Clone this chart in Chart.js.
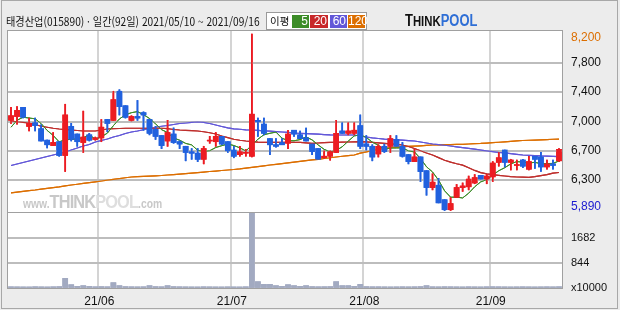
<!DOCTYPE html>
<html lang="ko">
<head>
<meta charset="utf-8">
<title>태경산업 일간 차트</title>
<script src="https://cdn.jsdelivr.net/npm/chart.js@4.4.1/dist/chart.umd.min.js"></script>
<style>
  html, body { margin: 0; padding: 0; }
  body { width: 620px; height: 310px; background: #ececec; position: relative; overflow: hidden; font-family: "Liberation Sans", Arial, sans-serif; }
  .outer { position: absolute; left: 1px; top: 0; width: 615px; height: 307px; border: 1px solid #a8a8a8; }
  #head { position: absolute; left: 6px; top: 13px; font: 11.5px "Noto Sans CJK KR", sans-serif; color: #111; white-space: nowrap; transform: scaleX(0.885); transform-origin: left center; }
  #legend { position: absolute; left: 266px; top: 12px; width: 99px; height: 16px; background: #fff; border: 1px solid #9a9a9a; }
  #legend span { position: absolute; top: 2px; height: 13px; line-height: 13px; color: #fff; text-align: right; padding-right: 1px; box-sizing: border-box; font-family: "Liberation Sans", Arial, sans-serif; font-size: 12px; white-space: nowrap; }
  #legend .lbl { color: #111; left: 3px; width: 22px; text-align: left; font-family: "Noto Sans CJK KR", sans-serif; font-size: 10.5px; line-height: 12px; }
  #logo { position: absolute; left: 405px; top: 12px; font-family: "Liberation Sans", Arial, sans-serif; font-weight: bold; font-size: 14px; white-space: nowrap; transform: scaleX(0.81); transform-origin: left center; }
  #wm { position: absolute; left: 23px; top: 191px; color: #c8c8c8; white-space: nowrap; font-family: "Liberation Sans", Arial, sans-serif; font-weight: bold; pointer-events: none; transform: scaleX(0.86); transform-origin: left center; }
  .box { position: absolute; left: 0; width: 620px; }
</style>
</head>
<body>
<div class="outer"></div>
<div class="box" style="top:0;height:222px"><canvas id="priceChart"></canvas></div>
<div class="box" style="top:204px;height:106px"><canvas id="volChart"></canvas></div>

<div id="head">태경산업(015890) · 일간(92일) 2021/05/10 ~ 2021/09/16</div>
<div id="legend">
  <span class="lbl">이평</span>
  <span style="left:25px;width:17px;background:#3c8c28">5</span>
  <span style="left:43px;width:18px;background:#c8282a">20</span>
  <span style="left:63px;width:17px;background:#6257d8">60</span>
  <span style="left:81px;width:17px;background:#dc6e00">120</span>
</div>
<div id="logo"><span style="color:#111;font-size:16px">T</span><span style="color:#111">HINK</span><span style="color:#2f6fd6;font-size:16px">POOL</span></div>
<div id="wm"><span style="font-size:12px">www.</span><span style="font-size:19px;letter-spacing:-1px">THINK</span><span style="font-size:19px;color:#dedede;letter-spacing:-1px">POOL</span><span style="font-size:12px">.com</span></div>

<script>
// trading days 2021/05/10 ~ 2021/09/16 (92)
const dates = [
  '2021/05/10','2021/05/11','2021/05/12','2021/05/13','2021/05/14','2021/05/17','2021/05/18','2021/05/20','2021/05/21','2021/05/24',
  '2021/05/25','2021/05/26','2021/05/27','2021/05/28','2021/05/31','2021/06/01','2021/06/02','2021/06/03','2021/06/04','2021/06/07',
  '2021/06/08','2021/06/09','2021/06/10','2021/06/11','2021/06/14','2021/06/15','2021/06/16','2021/06/17','2021/06/18','2021/06/21',
  '2021/06/22','2021/06/23','2021/06/24','2021/06/25','2021/06/28','2021/06/29','2021/06/30','2021/07/01','2021/07/02','2021/07/05',
  '2021/07/06','2021/07/07','2021/07/08','2021/07/09','2021/07/12','2021/07/13','2021/07/14','2021/07/15','2021/07/16','2021/07/19',
  '2021/07/20','2021/07/21','2021/07/22','2021/07/23','2021/07/26','2021/07/27','2021/07/28','2021/07/29','2021/07/30','2021/08/02',
  '2021/08/03','2021/08/04','2021/08/05','2021/08/06','2021/08/09','2021/08/10','2021/08/11','2021/08/12','2021/08/13','2021/08/17',
  '2021/08/18','2021/08/19','2021/08/20','2021/08/23','2021/08/24','2021/08/25','2021/08/26','2021/08/27','2021/08/30','2021/08/31',
  '2021/09/01','2021/09/02','2021/09/03','2021/09/06','2021/09/07','2021/09/08','2021/09/09','2021/09/10','2021/09/13','2021/09/14',
  '2021/09/15','2021/09/16'
];

const opens = [7070,7120,7240,6990,7040,6960,6810,6740,6790,6610, 6990,6890,6780,6880,6820,6840,7080,7070,7450,7260,
  7070,7120,7170,7080,6950,6870,6800,6890,6790,6730, 6660,6640,6560,6800,6790,6860,6790,6680,6620,6640,
  6600,7070,7020,6830,6750,6780,6770,6940,6880,6840, 6760,6700,6580,6600,6650,6930,6900,6900,7000,6760,
  6730,6630,6730,6730,6820,6730,6620,6530,6590,6410, 6190,6220,6030,5900,6060,6190,6200,6250,6350,6300,
  6330,6520,6680,6520,6480,6550,6430,6600,6590,6460, 6500,6540];
const highs = [7240,7250,7240,7100,7100,7010,6810,6910,6790,7280, 7030,6890,7190,6900,6850,7080,7080,7450,7470,7260,
  7130,7330,7180,7080,6990,6870,7070,6970,6800,6730, 6700,6700,6730,6860,6910,6860,6790,6730,6730,6690,
  8200,7100,7100,6830,6830,6830,6940,6940,6930,6970, 6760,6700,6670,6670,7070,7040,7040,7040,7140,6870,
  6750,6750,6760,6870,6870,6780,6620,6690,6590,6410, 6370,6310,6030,6060,6230,6250,6340,6360,6350,6360,
  6530,6650,6680,6560,6550,6560,6600,6600,6650,6550, 6550,6700];
const lows = [7030,7020,7100,6930,6930,6800,6710,6740,6600,6400, 6800,6730,6650,6800,6810,6790,6920,7070,7140,7100,
  7060,7070,6940,6880,6820,6700,6730,6770,6700,6540, 6560,6530,6500,6770,6730,6750,6650,6580,6600,6600,
  6590,6860,6880,6620,6720,6750,6700,6860,6830,6800, 6620,6560,6570,6550,6650,6900,6880,6880,6700,6680,
  6540,6590,6650,6650,6730,6590,6500,6530,6270,6090, 6160,5990,5890,5890,6060,6140,6160,6240,6300,6240,
  6270,6470,6460,6420,6420,6450,6420,6440,6400,6430, 6430,6530];
const closes = [7130,7200,7110,7030,7000,6800,6750,6780,6610,7140, 6820,6790,6850,6810,6840,6980,7030,7340,7250,7110,
  7120,7100,7140,6900,6860,6740,6910,6780,6760,6650, 6640,6560,6700,6810,6860,6760,6670,6600,6660,6650,
  7150,7050,6900,6750,6730,6750,6890,6890,6830,6800, 6660,6560,6600,6660,6900,6900,6930,6940,6730,6730,
  6590,6730,6660,6830,6730,6600,6530,6590,6400,6190, 6260,5990,5900,5980,6190,6210,6300,6320,6300,6340,
  6510,6580,6520,6550,6490,6470,6530,6560,6460,6500, 6480,6690];

// moving averages
const ma5 = [6980,7070,7110,7100,7090,7028,6938,6872,6788,6816, 6820,6828,6842,6882,6822,6854,6902,7000,7088,7142,
  7170,7184,7144,7094,7024,6948,6910,6838,6810,6768, 6748,6678,6662,6672,6714,6738,6760,6740,6710,6668,
  6746,6822,6882,6900,6916,6836,6804,6802,6818,6852, 6814,6748,6690,6656,6676,6724,6798,6866,6880,6846,
  6784,6744,6688,6708,6708,6710,6670,6656,6570,6462, 6394,6286,6148,6064,6064,6054,6116,6200,6264,6294,
  6354,6410,6450,6500,6530,6522,6512,6520,6502,6504, 6506,6538];
const ma20 = [7061,7051,7043,7035,7015,6992,6979,6966,6956,6950, 6943,6937,6930,6930,6930,6943,6956,6960,6963,6966,
  6966,6966,6966,6966,6966,6966,6960,6950,6943,6939, 6935,6930,6920,6907,6891,6865,6843,6822,6809,6799,
  6791,6784,6782,6782,6782,6782,6782,6782,6782,6776, 6769,6773,6777,6780,6782,6785,6786,6789,6790,6787,
  6782,6776,6769,6761,6754,6747,6727,6701,6671,6642, 6616,6582,6547,6522,6501,6483,6449,6414,6385,6370,
  6358,6349,6341,6333,6328,6326,6324,6333,6346,6359, 6378,6387];
const ma60 = [6479,6498,6518,6538,6557,6577,6596,6616,6636,6655, 6681,6708,6734,6754,6786,6806,6825,6852,6871,6897,
  6917,6930,6947,6963,6979,6992,7002,7015,7028,7035, 7042,7048,7044,7028,7009,6989,6970,6959,6953,6946,
  6943,6938,6933,6928,6922,6917,6911,6904,6900,6896, 6892,6888,6884,6880,6878,6878,6878,6878,6865,6852,
  6839,6832,6825,6820,6815,6810,6804,6799,6786,6773, 6760,6752,6744,6734,6723,6713,6702,6692,6681,6671,
  6661,6651,6643,6633,6625,6616,6612,6608,6604,6602, 6599,6596];
const ma120 = [6120,6130,6140,6150,6158,6170,6180,6190,6200,6212, 6223,6233,6244,6255,6265,6276,6286,6297,6307,6318,
  6328,6332,6336,6340,6344,6348,6354,6360,6367,6373, 6380,6386,6393,6400,6406,6413,6420,6426,6434,6444,
  6454,6464,6474,6485,6494,6504,6513,6523,6532,6542, 6551,6560,6570,6580,6590,6600,6608,6616,6640,6656,
  6672,6690,6704,6712,6718,6724,6728,6732,6736,6741, 6747,6749,6751,6753,6755,6756,6760,6764,6767,6772,
  6777,6783,6789,6795,6801,6806,6809,6812,6815,6818, 6822,6825];

// volume, x10000 shares
const volumes = [40,38,36,35,42,38,35,40,45,322, 110,54,77,54,40,45,40,178,77,45,
  40,38,40,77,45,40,77,45,40,38, 36,35,40,38,36,35,38,36,35,40,
  2510,211,121,121,77,54,110,77,54,77, 45,40,42,45,211,77,77,54,121,45,
  40,40,38,36,38,40,38,40,45,77, 40,38,42,40,38,36,40,38,36,40,
  42,40,38,36,38,40,38,36,38,40, 38,42];

// axis ticks (label text as printed on the chart)
const priceTickValues = [8150, 7820, 7440, 7050, 6670, 6290, 5940];
const priceTickLabels = ['8,200', '7,800', '7,400', '7,000', '6,700', '6,300', '5,890'];
const priceGridValues = [7820, 7440, 7050, 6670, 6290];
const volTickValues = [1682, 844, 0];
const volTickLabels = ['1682', '844', 'x10000'];
const volGridValues = [1682, 844];

const PRICE_MIN = 5870, PRICE_MAX = 8239;
const VOL_MAX = 2510;

const UP = '#ec1c22', DOWN = '#2161de';
const GRID = '#d4d4d4';
const HGRID = '#bdbdbd';

const candleColors = closes.map((c, i) => c >= opens[i] ? UP : DOWN);

// first trading day of a new month gets a vertical grid line + label
const isMonthStart = i => i > 0 && i < dates.length && dates[i].slice(5, 7) !== dates[i - 1].slice(5, 7);
const monthGrid = ctx => isMonthStart(ctx.index) ? GRID : 'rgba(0,0,0,0)';

// white plot background; horizontal grid drawn last, then the datasets are put back on top of it
function makeFrame(hGrid) {
  return {
    id: 'panelFrame',
    beforeDraw(chart) {
      const { ctx, chartArea: a } = chart;
      ctx.save();
      ctx.fillStyle = '#fff';
      ctx.fillRect(a.left, a.top, a.right - a.left, a.bottom - a.top);
      ctx.restore();
    },
    afterDraw(chart) {
      const { ctx, chartArea: a } = chart;
      const y = chart.scales.y;
      ctx.save();
      ctx.fillStyle = HGRID;
      hGrid.forEach(v => {
        const py = Math.round(y.getPixelForValue(v));
        ctx.fillRect(a.left, py - 1, a.right - a.left, 2);
      });
      ctx.restore();

      // candles / bars / averages over the grid lines
      const metas = chart.getSortedVisibleDatasetMetas();
      ctx.save();
      ctx.beginPath();
      ctx.rect(a.left, a.top, a.right - a.left, a.bottom - a.top);
      ctx.clip();
      for (let i = metas.length - 1; i >= 0; i--) metas[i].controller.draw();
      ctx.restore();

      ctx.save();
      ctx.strokeStyle = '#a0a0a0';
      ctx.lineWidth = 1;
      ctx.strokeRect(a.left - 0.5, a.top - 0.5, a.right - a.left + 1, a.bottom - a.top + 1);
      ctx.restore();
    }
  };
}

const maLine = (label, data, color, width, order) => ({
  type: 'line', label, data, borderColor: color, borderWidth: width,
  pointRadius: 0, tension: 0, order
});

// right-hand value axis; label gap made with an invisible tick mark so it doesn't eat vertical space
const rightAxis = (min, max, values, labels, colorFn, size) => ({
  position: 'right',
  min, max,
  afterBuildTicks: s => { s.ticks = values.map(v => ({ value: v })); },
  ticks: {
    callback: (v, i) => labels[i],
    color: colorFn,
    padding: 0,
    font: { family: 'Liberation Sans', size }
  },
  grid: { drawOnChartArea: false, drawTicks: true, tickLength: 9, tickColor: 'rgba(0,0,0,0)' },
  border: { display: false },
  afterFit: s => { s.width = 58; }
});

// price chart
new Chart(document.getElementById('priceChart'), {
  type: 'bar',
  data: {
    labels: dates,
    datasets: [
      { label: 'body', data: dates.map((d, i) => [opens[i], closes[i]]), backgroundColor: candleColors, barThickness: 5, grouped: false, order: 0 },
      { label: 'wick', data: dates.map((d, i) => [lows[i], highs[i]]), backgroundColor: candleColors, barThickness: 1, grouped: false, order: 1 },
      maLine('5', ma5, '#3c8c28', 1, 2),
      maLine('20', ma20, '#be2e2c', 1.2, 3),
      maLine('60', ma60, '#6257d8', 1.2, 4),
      maLine('120', ma120, '#dc6e00', 1.2, 5)
    ]
  },
  options: {
    responsive: true,
    maintainAspectRatio: false,
    animation: false,
    events: [],
    layout: { padding: { left: 8, top: 31, right: 0, bottom: 10 } },
    plugins: { legend: { display: false }, tooltip: { enabled: false } },
    scales: {
      x: {
        ticks: { display: false, autoSkip: false },
        grid: { offset: true, drawTicks: false, color: monthGrid, lineWidth: 2 },
        border: { display: false },
        afterFit: s => { s.height = 0; }
      },
      y: rightAxis(PRICE_MIN, PRICE_MAX, priceTickValues, priceTickLabels,
        ctx => ctx.index === 0 ? '#dc6e00' : ctx.index === priceTickLabels.length - 1 ? '#1a1ad0' : '#111', 12)
    }
  },
  plugins: [makeFrame(priceGridValues)]
});

// volume chart
new Chart(document.getElementById('volChart'), {
  type: 'bar',
  data: {
    labels: dates,
    datasets: [{ label: 'volume', data: volumes, backgroundColor: '#a2aac1', barThickness: 5 }]
  },
  options: {
    responsive: true,
    maintainAspectRatio: false,
    animation: false,
    events: [],
    layout: { padding: { left: 8, top: 9, right: 0, bottom: 0 } },
    plugins: { legend: { display: false }, tooltip: { enabled: false } },
    scales: {
      x: {
        ticks: {
          autoSkip: false,
          maxRotation: 0,
          padding: 6,
          labelOffset: -2,
          color: '#111',
          font: { family: 'Liberation Sans', size: 12 },
          callback: (v, i) => isMonthStart(i) ? '21/' + dates[i].slice(5, 7) : ''
        },
        grid: { offset: true, drawTicks: false, color: monthGrid, lineWidth: 2 },
        border: { display: false },
        afterFit: s => { s.height = 22; }
      },
      y: rightAxis(0, VOL_MAX, volTickValues, volTickLabels, '#111', 11)
    }
  },
  plugins: [makeFrame(volGridValues)]
});
</script>
</body>
</html>
